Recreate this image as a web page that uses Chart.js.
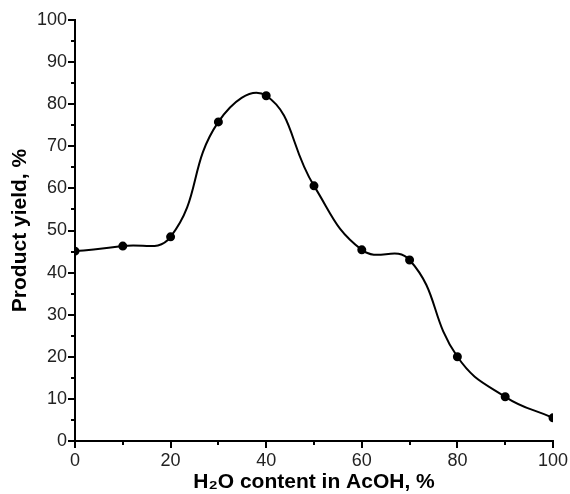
<!DOCTYPE html>
<html>
<head>
<meta charset="utf-8">
<script src="https://cdn.jsdelivr.net/npm/chart.js@4.4.0/dist/chart.umd.min.js"></script>
<style>
  html, body { margin: 0; padding: 0; background: #fff; }
  #wrap { width: 570px; height: 494px; }
</style>
</head>
<body>
<div id="wrap"><canvas id="yieldChart" width="570" height="494"></canvas></div>
<script>
const waterContent = [0, 10, 20, 30, 40, 50, 60, 70, 80, 90, 100];
const productYield = [45.1, 46.3, 48.5, 75.8, 82.0, 60.6, 45.4, 43.0, 20.0, 10.5, 5.5];
const xMinorTicks = [10, 30, 50, 70, 90];
const yMinorTicks = [5, 15, 25, 35, 45, 55, 65, 75, 85, 95];

const fontFamily = "'Liberation Sans', Arial, sans-serif";

// short outward minor ticks on both axes
const minorTicks = {
    id: 'minorTicks',
    afterDraw(chart) {
        const c = chart.ctx;
        const xs = chart.scales.x, ys = chart.scales.y;
        const area = chart.chartArea;
        c.save();
        c.strokeStyle = '#000';
        c.lineWidth = 2;
        c.beginPath();
        xMinorTicks.forEach(v => {
            const px = Math.round(xs.getPixelForValue(v));
            c.moveTo(px, area.bottom);
            c.lineTo(px, area.bottom + 4);
        });
        yMinorTicks.forEach(v => {
            const py = Math.round(ys.getPixelForValue(v));
            c.moveTo(area.left, py);
            c.lineTo(area.left - 4, py);
        });
        c.stroke();
        c.restore();
    }
};

const ctx = document.getElementById('yieldChart').getContext('2d');
const myChart = new Chart(ctx, {
    type: 'line',
    data: {
        datasets: [{
            data: waterContent.map((x, i) => ({ x: x, y: productYield[i] })),
            borderColor: '#000',
            backgroundColor: '#000',
            borderWidth: 2,
            pointRadius: 3.5,
            pointHoverRadius: 3.5,
            tension: 0.45,
            fill: false
        }]
    },
    options: {
        responsive: false,
        animation: false,
        layout: {
            padding: { top: 20, right: 17, left: 0, bottom: 0 }
        },
        plugins: {
            legend: { display: false },
            tooltip: { enabled: false }
        },
        scales: {
            x: {
                type: 'linear',
                min: 0,
                max: 100,
                afterFit(scale) { scale.height = 53; },
                border: { display: true, color: '#000', width: 2 },
                grid: {
                    drawOnChartArea: false,
                    drawTicks: true,
                    tickLength: 7,
                    tickColor: '#000',
                    lineWidth: 2
                },
                ticks: {
                    stepSize: 20,
                    color: '#222',
                    padding: 2,
                    maxRotation: 0,
                    font: { family: fontFamily, size: 18 }
                },
                title: {
                    display: true,
                    text: 'H₂O content in AcOH, %',
                    color: '#000',
                    padding: { top: 0, bottom: 0 },
                    font: { family: fontFamily, size: 21, weight: 'bold', lineHeight: 1.1 }
                }
            },
            y: {
                min: 0,
                max: 100,
                afterFit(scale) { scale.width = 75; },
                border: { display: true, color: '#000', width: 2 },
                grid: {
                    drawOnChartArea: false,
                    drawTicks: true,
                    tickLength: 7,
                    tickColor: '#000',
                    lineWidth: 2
                },
                ticks: {
                    stepSize: 10,
                    color: '#222',
                    padding: 1,
                    font: { family: fontFamily, size: 18 }
                },
                title: {
                    display: true,
                    text: 'Product yield, %',
                    color: '#000',
                    padding: { top: 9, bottom: 0 },
                    font: { family: fontFamily, size: 21, weight: 'bold', lineHeight: 1.1 }
                }
            }
        }
    },
    plugins: [minorTicks]
});
</script>
</body>
</html>
